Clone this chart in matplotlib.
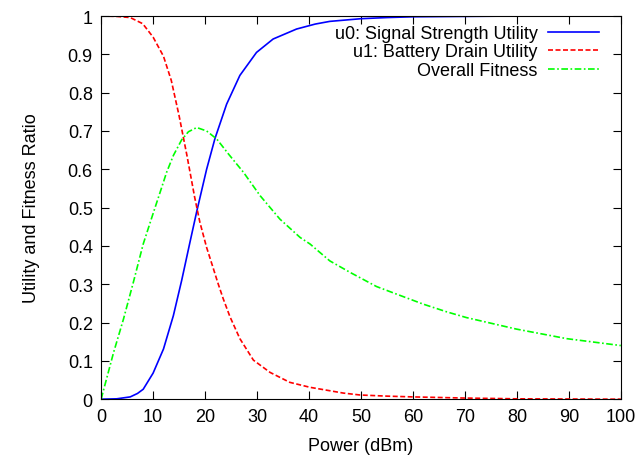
import matplotlib
matplotlib.use("Agg")
import matplotlib.pyplot as plt

# values
u0_x = [0, 3, 5.6, 7, 8.1, 10, 12, 13.9, 15.5, 17.1, 18.4, 20.3, 21.9, 24.15, 26.7, 29.9,
        33.1, 37.6, 41.2, 44, 50, 55, 60, 70, 80, 100]
u0_y = [0, 0.001, 0.006, 0.015, 0.026, 0.068, 0.131, 0.218, 0.31, 0.41, 0.49, 0.60, 0.68,
        0.77, 0.845, 0.905, 0.940, 0.966, 0.979, 0.986, 0.993, 0.996, 0.998, 0.999, 1.0, 1.0]

u1_x = [0, 3, 5.6, 8, 10, 12, 13.5, 15, 16.5, 18, 19, 20.3, 21.5, 22.5, 23.5, 24.8, 26.7,
        29.3, 32.5, 36.3, 40.2, 46.6, 49.8, 55, 60, 70, 80, 100]
u1_y = [1.0, 0.999, 0.996, 0.980, 0.945, 0.895, 0.832, 0.740, 0.637, 0.527, 0.462, 0.396,
        0.345, 0.302, 0.262, 0.215, 0.158, 0.102, 0.070, 0.044, 0.031, 0.016, 0.011, 0.008,
        0.006, 0.003, 0.001, 0.0]

fit_x = [0, 2.4, 4.3, 6.2, 8.1, 10.06, 11.35, 12.6, 13.9, 15.5, 16.8, 18.4, 20.3, 22.25, 24.5,
         27.4, 30.6, 34.4, 38.3, 40.2, 44, 47.9, 53, 56.9, 62, 66.5, 70.3, 79.9, 89.6, 100]
fit_y = [0, 0.122, 0.209, 0.305, 0.405, 0.487, 0.540, 0.592, 0.636, 0.677, 0.698, 0.709, 0.700,
         0.679, 0.640, 0.592, 0.531, 0.470, 0.422, 0.405, 0.361, 0.331, 0.294, 0.274, 0.248,
         0.228, 0.213, 0.183, 0.158, 0.14]

plt.rcParams['font.family'] = ['Liberation Sans', 'DejaVu Sans']

fig = plt.figure(figsize=(6.4, 4.6), dpi=100)
ax = fig.add_axes([0.158, 0.130, 0.812, 0.833])

ax.plot(u0_x, u0_y, color='#0000ff', lw=1.2, label='u0: Signal Strength Utility')
ax.plot(u1_x, u1_y, color='#ff0000', lw=1.2, dashes=(3, 1.5), label='u1: Battery Drain Utility')
ax.plot(fit_x, fit_y, color='#00ff00', lw=1.2, dashes=(4, 1.5, 1, 1.5), label='Overall Fitness')

ax.set_xlim(0, 100)
ax.set_ylim(0, 1)
ax.set_xticks(range(0, 101, 10))
ax.set_yticks([i / 10 for i in range(11)])
ax.set_yticklabels(['0', '0.1', '0.2', '0.3', '0.4', '0.5', '0.6', '0.7', '0.8', '0.9', '1'])
ax.tick_params(direction='in', top=True, right=True, length=6, labelsize=13, pad=6)
ax.set_xlabel('Power (dBm)', fontsize=13, labelpad=9)
ax.set_ylabel('Utility and Fitness Ratio', fontsize=13, labelpad=20)

ax.legend(loc='upper right', bbox_to_anchor=(0.975, 1.0), frameon=False, markerfirst=False,
          fontsize=13, handlelength=2.8, labelspacing=0.08, borderaxespad=0.1,
          handletextpad=0.6)

fig.savefig('out.png', dpi=100)
